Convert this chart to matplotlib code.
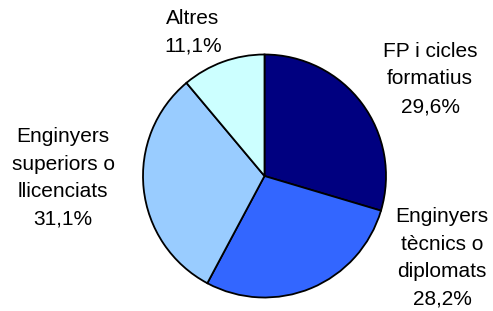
import matplotlib
matplotlib.use("Agg")
import matplotlib.pyplot as plt

categories = ["FP i cicles\nformatius", "Enginyers\ntècnics o\ndiplomats",
              "Enginyers\nsuperiors o\nllicenciats", "Altres"]
values = [29.6, 28.2, 31.1, 11.1]
colors = ["#000080", "#3366ff", "#99ccff", "#ccffff"]

# label centre positions (pixels, from top-left)
label_pos = [(430, 79), (442, 258), (63, 178), (193, 32)]

W, H = 493, 311
fig = plt.figure(figsize=(W / 100, H / 100), dpi=100)
ax = fig.add_axes([0, 0, 1, 1])

ax.pie(values, colors=colors, startangle=90, counterclock=False,
       center=(264.5, H - 176), radius=121.5,
       wedgeprops=dict(edgecolor="black", linewidth=1.3), frame=True)
ax.set_xlim(0, W)
ax.set_ylim(0, H)
ax.set_aspect("equal")
ax.axis("off")

for cat, val, (x, y) in zip(categories, values, label_pos):
    txt = f"{cat}\n{val:.1f}%".replace(".", ",")
    ax.text(x, H - y, txt, ha="center", va="center", multialignment="center",
            fontsize=15, family="Liberation Sans", color="black",
            linespacing=1.57)

fig.savefig("out.png", dpi=100)
